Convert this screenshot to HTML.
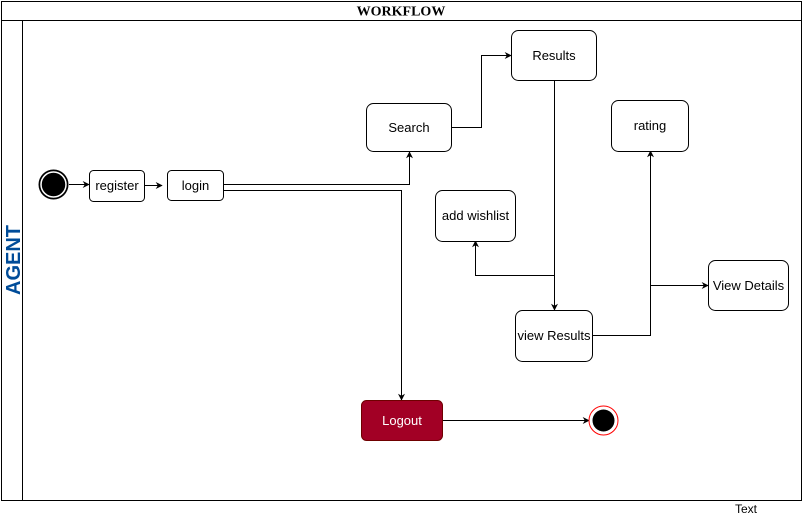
<!DOCTYPE html>
<html><head><meta charset="utf-8"><style>
html,body{margin:0;padding:0;background:#fff;}
svg{display:block;}
text{font-family:"Liberation Sans",Arial,sans-serif;font-size:13px;}
</style></head><body>
<svg width="802" height="519" viewBox="0 0 802 519" xmlns="http://www.w3.org/2000/svg">
<defs>
<marker id="a" viewBox="0 0 10 10" refX="9" refY="5" markerWidth="7" markerHeight="7" orient="auto" markerUnits="userSpaceOnUse">
<path d="M0,0 L10,5 L0,10 L3,5 Z" fill="#000"/></marker>
</defs>
<rect x="1.5" y="1.5" width="800" height="499" fill="#fff" stroke="#000"/>
<line x1="1.5" y1="20.5" x2="801.5" y2="20.5" stroke="#000"/>
<line x1="22.5" y1="20.5" x2="22.5" y2="500.5" stroke="#000"/>
<text x="401" y="15.5" text-anchor="middle" style="font-family:'Liberation Serif',serif;font-weight:bold;font-size:14px">WORKFLOW</text>
<text transform="translate(20,260) rotate(-90)" text-anchor="middle" fill="#004c99" style="font-weight:bold;font-size:20px">AGENT</text>

<g fill="none" stroke="#000" stroke-width="1">
<line x1="69" y1="184.5" x2="89" y2="184.5" marker-end="url(#a)"/>
<line x1="144" y1="185.5" x2="162" y2="185.5" marker-end="url(#a)"/>
<polyline points="223,184.5 409.5,184.5 409.5,152" marker-end="url(#a)"/>
<polyline points="223,190.5 401.5,190.5 401.5,400" marker-end="url(#a)"/>
<polyline points="451,127.5 481.5,127.5 481.5,55.5 511,55.5" marker-end="url(#a)"/>
<line x1="554.5" y1="80" x2="554.5" y2="310" marker-end="url(#a)"/>
<polyline points="554.5,275.5 475.5,275.5 475.5,241" marker-end="url(#a)"/>
<polyline points="592,335.5 650.5,335.5 650.5,151" marker-end="url(#a)"/>
<polyline points="650.5,285.5 708,285.5" marker-end="url(#a)"/>
<line x1="442" y1="420.5" x2="589" y2="420.5" marker-end="url(#a)"/>
</g>

<g fill="#fff" stroke="#000">
<rect x="89.5" y="170.5" width="55" height="31" rx="4"/>
<rect x="167.5" y="170.5" width="56" height="30" rx="4"/>
<rect x="366.5" y="103.5" width="85" height="48" rx="7"/>
<rect x="511.5" y="30.5" width="85" height="50" rx="7"/>
<rect x="611.5" y="100.5" width="77" height="51" rx="7"/>
<rect x="435.5" y="190.5" width="80" height="51" rx="7"/>
<rect x="515.5" y="310.5" width="77" height="51" rx="7"/>
<rect x="708.5" y="260.5" width="80" height="50" rx="7"/>
</g>
<rect x="361.5" y="400.5" width="81" height="40" rx="5" fill="#a20025" stroke="#6f0000"/>

<circle cx="53.5" cy="184.5" r="15" fill="#000"/>
<circle cx="53.5" cy="184.5" r="12.5" fill="#000" stroke="#fff" stroke-width="1.5"/>
<circle cx="603.5" cy="420.5" r="14.5" fill="#fff" stroke="#f00"/>
<circle cx="603.5" cy="420.5" r="11" fill="#000"/>

<g text-anchor="middle" fill="#000">
<text x="117" y="190">register</text>
<text x="195.5" y="190">login</text>
<text x="409" y="132">Search</text>
<text x="554" y="60">Results</text>
<text x="650" y="130">rating</text>
<text x="475.5" y="220">add wishlist</text>
<text x="554" y="340">view Results</text>
<text x="748.5" y="290">View Details</text>
<text x="402" y="425" fill="#fff">Logout</text>
<text x="746" y="513" style="font-size:12px">Text</text>
</g>
</svg>
</body></html>
